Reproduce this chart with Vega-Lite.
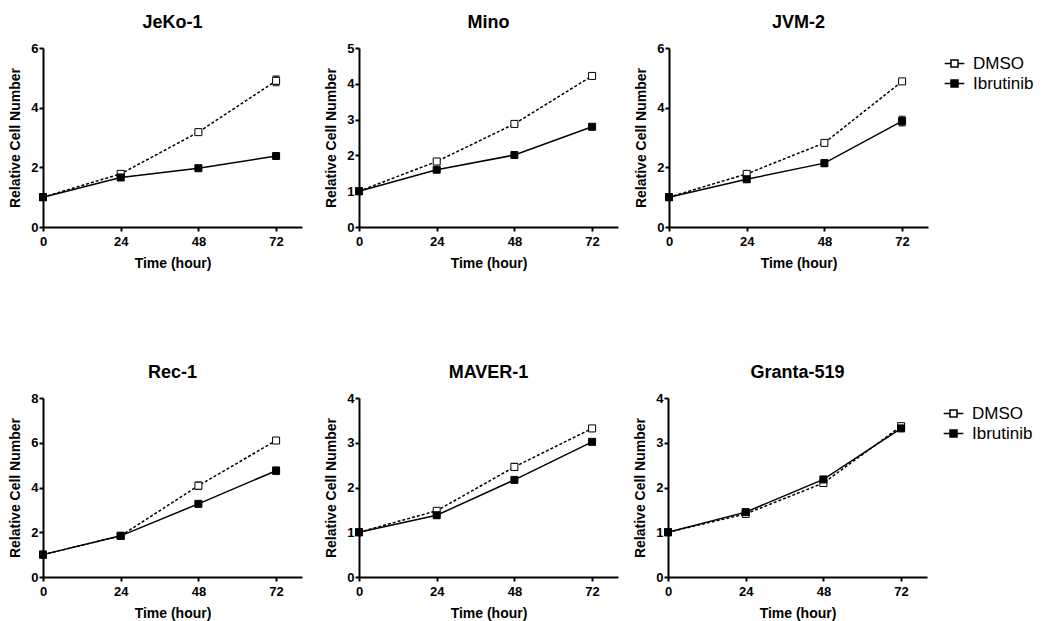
{
  "$schema": "https://vega.github.io/schema/vega-lite/v6.json",
  "padding": {"left": 8, "top": 14, "right": 5, "bottom": 5},
  "background": "white",
  "data": {"values": [
    {"cell": "JeKo-1", "treatment": "DMSO", "time": 0, "value": 1.0, "lo": 1.0, "hi": 1.0},
    {"cell": "JeKo-1", "treatment": "DMSO", "time": 24, "value": 1.78, "lo": 1.70, "hi": 1.86},
    {"cell": "JeKo-1", "treatment": "DMSO", "time": 48, "value": 3.18, "lo": 3.13, "hi": 3.23},
    {"cell": "JeKo-1", "treatment": "DMSO", "time": 72, "value": 4.9, "lo": 4.75, "hi": 5.05},
    {"cell": "JeKo-1", "treatment": "Ibrutinib", "time": 0, "value": 1.0, "lo": 1.0, "hi": 1.0},
    {"cell": "JeKo-1", "treatment": "Ibrutinib", "time": 24, "value": 1.66, "lo": 1.61, "hi": 1.71},
    {"cell": "JeKo-1", "treatment": "Ibrutinib", "time": 48, "value": 1.97, "lo": 1.94, "hi": 2.0},
    {"cell": "JeKo-1", "treatment": "Ibrutinib", "time": 72, "value": 2.38, "lo": 2.35, "hi": 2.41},
    {"cell": "Mino", "treatment": "DMSO", "time": 0, "value": 1.0, "lo": 1.0, "hi": 1.0},
    {"cell": "Mino", "treatment": "DMSO", "time": 24, "value": 1.83, "lo": 1.80, "hi": 1.86},
    {"cell": "Mino", "treatment": "DMSO", "time": 48, "value": 2.88, "lo": 2.85, "hi": 2.91},
    {"cell": "Mino", "treatment": "DMSO", "time": 72, "value": 4.22, "lo": 4.19, "hi": 4.25},
    {"cell": "Mino", "treatment": "Ibrutinib", "time": 0, "value": 1.0, "lo": 1.0, "hi": 1.0},
    {"cell": "Mino", "treatment": "Ibrutinib", "time": 24, "value": 1.6, "lo": 1.57, "hi": 1.63},
    {"cell": "Mino", "treatment": "Ibrutinib", "time": 48, "value": 2.01, "lo": 1.98, "hi": 2.04},
    {"cell": "Mino", "treatment": "Ibrutinib", "time": 72, "value": 2.8, "lo": 2.77, "hi": 2.83},
    {"cell": "JVM-2", "treatment": "DMSO", "time": 0, "value": 1.0, "lo": 1.0, "hi": 1.0},
    {"cell": "JVM-2", "treatment": "DMSO", "time": 24, "value": 1.78, "lo": 1.75, "hi": 1.81},
    {"cell": "JVM-2", "treatment": "DMSO", "time": 48, "value": 2.82, "lo": 2.78, "hi": 2.86},
    {"cell": "JVM-2", "treatment": "DMSO", "time": 72, "value": 4.88, "lo": 4.85, "hi": 4.91},
    {"cell": "JVM-2", "treatment": "Ibrutinib", "time": 0, "value": 1.0, "lo": 1.0, "hi": 1.0},
    {"cell": "JVM-2", "treatment": "Ibrutinib", "time": 24, "value": 1.6, "lo": 1.56, "hi": 1.64},
    {"cell": "JVM-2", "treatment": "Ibrutinib", "time": 48, "value": 2.14, "lo": 2.04, "hi": 2.24},
    {"cell": "JVM-2", "treatment": "Ibrutinib", "time": 72, "value": 3.55, "lo": 3.4, "hi": 3.7},
    {"cell": "Rec-1", "treatment": "DMSO", "time": 0, "value": 1.0, "lo": 1.0, "hi": 1.0},
    {"cell": "Rec-1", "treatment": "DMSO", "time": 24, "value": 1.84, "lo": 1.80, "hi": 1.88},
    {"cell": "Rec-1", "treatment": "DMSO", "time": 48, "value": 4.08, "lo": 3.93, "hi": 4.23},
    {"cell": "Rec-1", "treatment": "DMSO", "time": 72, "value": 6.1, "lo": 6.05, "hi": 6.15},
    {"cell": "Rec-1", "treatment": "Ibrutinib", "time": 0, "value": 1.0, "lo": 1.0, "hi": 1.0},
    {"cell": "Rec-1", "treatment": "Ibrutinib", "time": 24, "value": 1.84, "lo": 1.79, "hi": 1.89},
    {"cell": "Rec-1", "treatment": "Ibrutinib", "time": 48, "value": 3.27, "lo": 3.22, "hi": 3.32},
    {"cell": "Rec-1", "treatment": "Ibrutinib", "time": 72, "value": 4.75, "lo": 4.6, "hi": 4.9},
    {"cell": "MAVER-1", "treatment": "DMSO", "time": 0, "value": 1.0, "lo": 1.0, "hi": 1.0},
    {"cell": "MAVER-1", "treatment": "DMSO", "time": 24, "value": 1.48, "lo": 1.46, "hi": 1.5},
    {"cell": "MAVER-1", "treatment": "DMSO", "time": 48, "value": 2.46, "lo": 2.39, "hi": 2.53},
    {"cell": "MAVER-1", "treatment": "DMSO", "time": 72, "value": 3.32, "lo": 3.29, "hi": 3.35},
    {"cell": "MAVER-1", "treatment": "Ibrutinib", "time": 0, "value": 1.0, "lo": 1.0, "hi": 1.0},
    {"cell": "MAVER-1", "treatment": "Ibrutinib", "time": 24, "value": 1.38, "lo": 1.35, "hi": 1.41},
    {"cell": "MAVER-1", "treatment": "Ibrutinib", "time": 48, "value": 2.17, "lo": 2.14, "hi": 2.2},
    {"cell": "MAVER-1", "treatment": "Ibrutinib", "time": 72, "value": 3.02, "lo": 2.99, "hi": 3.05},
    {"cell": "Granta-519", "treatment": "DMSO", "time": 0, "value": 1.0, "lo": 1.0, "hi": 1.0},
    {"cell": "Granta-519", "treatment": "DMSO", "time": 24, "value": 1.41, "lo": 1.38, "hi": 1.44},
    {"cell": "Granta-519", "treatment": "DMSO", "time": 48, "value": 2.1, "lo": 2.06, "hi": 2.14},
    {"cell": "Granta-519", "treatment": "DMSO", "time": 72, "value": 3.37, "lo": 3.34, "hi": 3.4},
    {"cell": "Granta-519", "treatment": "Ibrutinib", "time": 0, "value": 1.0, "lo": 1.0, "hi": 1.0},
    {"cell": "Granta-519", "treatment": "Ibrutinib", "time": 24, "value": 1.45, "lo": 1.42, "hi": 1.48},
    {"cell": "Granta-519", "treatment": "Ibrutinib", "time": 48, "value": 2.18, "lo": 2.15, "hi": 2.21},
    {"cell": "Granta-519", "treatment": "Ibrutinib", "time": 72, "value": 3.32, "lo": 3.29, "hi": 3.35}
  ]},
  "columns": 1,
  "spacing": 94,
  "resolve": {"scale": {"fill": "independent"}, "legend": {"fill": "independent"}},
  "concat": [
    {
      "spacing": 22,
      "hconcat": [
        {
          "title": "JeKo-1", "width": 259, "height": 179,
          "transform": [{"filter": "datum.cell === 'JeKo-1'"}],
          "encoding": {"x": {"field": "time", "type": "quantitative", "scale": {"domain": [0, 80], "nice": false}, "axis": {"values": [0, 24, 48, 72], "title": "Time (hour)"}}},
          "layer": [
            {"mark": {"type": "errorbar", "ticks": {"size": 7, "thickness": 2, "color": "black"}, "color": "black", "thickness": 1.5},
             "encoding": {"y": {"field": "lo", "type": "quantitative", "scale": {"domain": [0, 6], "nice": false}, "axis": {"values": [0, 2, 4, 6], "title": "Relative Cell Number"}}, "y2": {"field": "hi"}, "detail": {"field": "treatment"}}},
            {"transform": [{"filter": "datum.treatment === 'DMSO'"}], "mark": {"type": "line", "color": "black", "strokeWidth": 1.5, "strokeDash": [3, 2]},
             "encoding": {"y": {"field": "value", "type": "quantitative", "scale": {"domain": [0, 6], "nice": false}, "axis": {"values": [0, 2, 4, 6], "title": "Relative Cell Number"}}}},
            {"transform": [{"filter": "datum.treatment === 'Ibrutinib'"}], "mark": {"type": "line", "color": "black", "strokeWidth": 1.5},
             "encoding": {"y": {"field": "value", "type": "quantitative", "scale": {"domain": [0, 6], "nice": false}, "axis": {"values": [0, 2, 4, 6], "title": "Relative Cell Number"}}}},
            {"mark": {"type": "point", "shape": "square", "filled": true, "size": 49, "stroke": "black", "strokeWidth": 1, "opacity": 1},
             "encoding": {"y": {"field": "value", "type": "quantitative", "scale": {"domain": [0, 6], "nice": false}, "axis": {"values": [0, 2, 4, 6], "title": "Relative Cell Number"}},
                          "fill": {"field": "treatment", "type": "nominal", "scale": {"domain": ["DMSO", "Ibrutinib"], "range": ["white", "black"]},
                                   "legend": {"title": null, "orient": "right", "offset": 11, "padding": 7, "labelFontSize": 17, "labelFont": "Liberation Sans", "labelFontWeight": "normal", "labelColor": "black", "labelOffset": 10, "symbolSize": 49, "rowPadding": 2, "symbolType": "M-2.8,0H-1M-1,-1H1V1H-1ZM1,0H2.8", "symbolStrokeColor": "black", "symbolStrokeWidth": 1.5,
                                              "encode": {"symbols": {"strokeDash": {"condition": {"test": "datum.value === 'DMSO'", "value": [2, 1.5]}, "value": [1, 0]}}}}}}}
          ]
        },
        {
          "spacing": 16,
          "hconcat": [
            {
              "title": "Mino", "width": 259, "height": 179,
              "transform": [{"filter": "datum.cell === 'Mino'"}],
              "encoding": {"x": {"field": "time", "type": "quantitative", "scale": {"domain": [0, 80], "nice": false}, "axis": {"values": [0, 24, 48, 72], "title": "Time (hour)"}}},
              "layer": [
                {"mark": {"type": "errorbar", "ticks": {"size": 7, "thickness": 2, "color": "black"}, "color": "black", "thickness": 1.5},
                 "encoding": {"y": {"field": "lo", "type": "quantitative", "scale": {"domain": [0, 5], "nice": false}, "axis": {"values": [0, 1, 2, 3, 4, 5], "title": "Relative Cell Number"}}, "y2": {"field": "hi"}, "detail": {"field": "treatment"}}},
                {"transform": [{"filter": "datum.treatment === 'DMSO'"}], "mark": {"type": "line", "color": "black", "strokeWidth": 1.5, "strokeDash": [3, 2]},
                 "encoding": {"y": {"field": "value", "type": "quantitative", "scale": {"domain": [0, 5], "nice": false}, "axis": {"values": [0, 1, 2, 3, 4, 5], "title": "Relative Cell Number"}}}},
                {"transform": [{"filter": "datum.treatment === 'Ibrutinib'"}], "mark": {"type": "line", "color": "black", "strokeWidth": 1.5},
                 "encoding": {"y": {"field": "value", "type": "quantitative", "scale": {"domain": [0, 5], "nice": false}, "axis": {"values": [0, 1, 2, 3, 4, 5], "title": "Relative Cell Number"}}}},
                {"mark": {"type": "point", "shape": "square", "filled": true, "size": 49, "stroke": "black", "strokeWidth": 1, "opacity": 1},
                 "encoding": {"y": {"field": "value", "type": "quantitative", "scale": {"domain": [0, 5], "nice": false}, "axis": {"values": [0, 1, 2, 3, 4, 5], "title": "Relative Cell Number"}},
                              "fill": {"field": "treatment", "type": "nominal", "scale": {"domain": ["DMSO", "Ibrutinib"], "range": ["white", "black"]},
                                       "legend": {"title": null, "orient": "right", "offset": 11, "padding": 7, "labelFontSize": 17, "labelFont": "Liberation Sans", "labelFontWeight": "normal", "labelColor": "black", "labelOffset": 10, "symbolSize": 49, "rowPadding": 2, "symbolType": "M-2.8,0H-1M-1,-1H1V1H-1ZM1,0H2.8", "symbolStrokeColor": "black", "symbolStrokeWidth": 1.5,
                                                  "encode": {"symbols": {"strokeDash": {"condition": {"test": "datum.value === 'DMSO'", "value": [2, 1.5]}, "value": [1, 0]}}}}}}}
              ]
            },
            {
              "title": "JVM-2", "width": 259, "height": 179,
              "transform": [{"filter": "datum.cell === 'JVM-2'"}],
              "encoding": {"x": {"field": "time", "type": "quantitative", "scale": {"domain": [0, 80], "nice": false}, "axis": {"values": [0, 24, 48, 72], "title": "Time (hour)"}}},
              "layer": [
                {"mark": {"type": "errorbar", "ticks": {"size": 7, "thickness": 2, "color": "black"}, "color": "black", "thickness": 1.5},
                 "encoding": {"y": {"field": "lo", "type": "quantitative", "scale": {"domain": [0, 6], "nice": false}, "axis": {"values": [0, 2, 4, 6], "title": "Relative Cell Number"}}, "y2": {"field": "hi"}, "detail": {"field": "treatment"}}},
                {"transform": [{"filter": "datum.treatment === 'DMSO'"}], "mark": {"type": "line", "color": "black", "strokeWidth": 1.5, "strokeDash": [3, 2]},
                 "encoding": {"y": {"field": "value", "type": "quantitative", "scale": {"domain": [0, 6], "nice": false}, "axis": {"values": [0, 2, 4, 6], "title": "Relative Cell Number"}}}},
                {"transform": [{"filter": "datum.treatment === 'Ibrutinib'"}], "mark": {"type": "line", "color": "black", "strokeWidth": 1.5},
                 "encoding": {"y": {"field": "value", "type": "quantitative", "scale": {"domain": [0, 6], "nice": false}, "axis": {"values": [0, 2, 4, 6], "title": "Relative Cell Number"}}}},
                {"mark": {"type": "point", "shape": "square", "filled": true, "size": 49, "stroke": "black", "strokeWidth": 1, "opacity": 1},
                 "encoding": {"y": {"field": "value", "type": "quantitative", "scale": {"domain": [0, 6], "nice": false}, "axis": {"values": [0, 2, 4, 6], "title": "Relative Cell Number"}},
                              "fill": {"field": "treatment", "type": "nominal", "scale": {"domain": ["DMSO", "Ibrutinib"], "range": ["white", "black"]},
                                       "legend": {"title": null, "orient": "right", "offset": 11, "padding": 7, "labelFontSize": 17, "labelFont": "Liberation Sans", "labelFontWeight": "normal", "labelColor": "black", "labelOffset": 10, "symbolSize": 49, "rowPadding": 2, "symbolType": "M-2.8,0H-1M-1,-1H1V1H-1ZM1,0H2.8", "symbolStrokeColor": "black", "symbolStrokeWidth": 1.5,
                                                  "encode": {"symbols": {"strokeDash": {"condition": {"test": "datum.value === 'DMSO'", "value": [2, 1.5]}, "value": [1, 0]}}}}}}}
              ]
            }
          ]
        }
      ]
    },
    {
      "spacing": 22,
      "hconcat": [
        {
          "title": "Rec-1", "width": 259, "height": 179,
          "transform": [{"filter": "datum.cell === 'Rec-1'"}],
          "encoding": {"x": {"field": "time", "type": "quantitative", "scale": {"domain": [0, 80], "nice": false}, "axis": {"values": [0, 24, 48, 72], "title": "Time (hour)"}}},
          "layer": [
            {"mark": {"type": "errorbar", "ticks": {"size": 7, "thickness": 2, "color": "black"}, "color": "black", "thickness": 1.5},
             "encoding": {"y": {"field": "lo", "type": "quantitative", "scale": {"domain": [0, 8], "nice": false}, "axis": {"values": [0, 2, 4, 6, 8], "title": "Relative Cell Number"}}, "y2": {"field": "hi"}, "detail": {"field": "treatment"}}},
            {"transform": [{"filter": "datum.treatment === 'DMSO'"}], "mark": {"type": "line", "color": "black", "strokeWidth": 1.5, "strokeDash": [3, 2]},
             "encoding": {"y": {"field": "value", "type": "quantitative", "scale": {"domain": [0, 8], "nice": false}, "axis": {"values": [0, 2, 4, 6, 8], "title": "Relative Cell Number"}}}},
            {"transform": [{"filter": "datum.treatment === 'Ibrutinib'"}], "mark": {"type": "line", "color": "black", "strokeWidth": 1.5},
             "encoding": {"y": {"field": "value", "type": "quantitative", "scale": {"domain": [0, 8], "nice": false}, "axis": {"values": [0, 2, 4, 6, 8], "title": "Relative Cell Number"}}}},
            {"mark": {"type": "point", "shape": "square", "filled": true, "size": 49, "stroke": "black", "strokeWidth": 1, "opacity": 1},
             "encoding": {"y": {"field": "value", "type": "quantitative", "scale": {"domain": [0, 8], "nice": false}, "axis": {"values": [0, 2, 4, 6, 8], "title": "Relative Cell Number"}},
                          "fill": {"field": "treatment", "type": "nominal", "scale": {"domain": ["DMSO", "Ibrutinib"], "range": ["white", "black"]},
                                   "legend": {"title": null, "orient": "right", "offset": 11, "padding": 7, "labelFontSize": 17, "labelFont": "Liberation Sans", "labelFontWeight": "normal", "labelColor": "black", "labelOffset": 10, "symbolSize": 49, "rowPadding": 2, "symbolType": "M-2.8,0H-1M-1,-1H1V1H-1ZM1,0H2.8", "symbolStrokeColor": "black", "symbolStrokeWidth": 1.5,
                                              "encode": {"symbols": {"strokeDash": {"condition": {"test": "datum.value === 'DMSO'", "value": [2, 1.5]}, "value": [1, 0]}}}}}}}
          ]
        },
        {
          "spacing": 15,
          "hconcat": [
            {
              "title": "MAVER-1", "width": 259, "height": 179,
              "transform": [{"filter": "datum.cell === 'MAVER-1'"}],
              "encoding": {"x": {"field": "time", "type": "quantitative", "scale": {"domain": [0, 80], "nice": false}, "axis": {"values": [0, 24, 48, 72], "title": "Time (hour)"}}},
              "layer": [
                {"mark": {"type": "errorbar", "ticks": {"size": 7, "thickness": 2, "color": "black"}, "color": "black", "thickness": 1.5},
                 "encoding": {"y": {"field": "lo", "type": "quantitative", "scale": {"domain": [0, 4], "nice": false}, "axis": {"values": [0, 1, 2, 3, 4], "title": "Relative Cell Number"}}, "y2": {"field": "hi"}, "detail": {"field": "treatment"}}},
                {"transform": [{"filter": "datum.treatment === 'DMSO'"}], "mark": {"type": "line", "color": "black", "strokeWidth": 1.5, "strokeDash": [3, 2]},
                 "encoding": {"y": {"field": "value", "type": "quantitative", "scale": {"domain": [0, 4], "nice": false}, "axis": {"values": [0, 1, 2, 3, 4], "title": "Relative Cell Number"}}}},
                {"transform": [{"filter": "datum.treatment === 'Ibrutinib'"}], "mark": {"type": "line", "color": "black", "strokeWidth": 1.5},
                 "encoding": {"y": {"field": "value", "type": "quantitative", "scale": {"domain": [0, 4], "nice": false}, "axis": {"values": [0, 1, 2, 3, 4], "title": "Relative Cell Number"}}}},
                {"mark": {"type": "point", "shape": "square", "filled": true, "size": 49, "stroke": "black", "strokeWidth": 1, "opacity": 1},
                 "encoding": {"y": {"field": "value", "type": "quantitative", "scale": {"domain": [0, 4], "nice": false}, "axis": {"values": [0, 1, 2, 3, 4], "title": "Relative Cell Number"}},
                              "fill": {"field": "treatment", "type": "nominal", "scale": {"domain": ["DMSO", "Ibrutinib"], "range": ["white", "black"]},
                                       "legend": {"title": null, "orient": "right", "offset": 11, "padding": 7, "labelFontSize": 17, "labelFont": "Liberation Sans", "labelFontWeight": "normal", "labelColor": "black", "labelOffset": 10, "symbolSize": 49, "rowPadding": 2, "symbolType": "M-2.8,0H-1M-1,-1H1V1H-1ZM1,0H2.8", "symbolStrokeColor": "black", "symbolStrokeWidth": 1.5,
                                                  "encode": {"symbols": {"strokeDash": {"condition": {"test": "datum.value === 'DMSO'", "value": [2, 1.5]}, "value": [1, 0]}}}}}}}
              ]
            },
            {
              "title": "Granta-519", "width": 259, "height": 179,
              "transform": [{"filter": "datum.cell === 'Granta-519'"}],
              "encoding": {"x": {"field": "time", "type": "quantitative", "scale": {"domain": [0, 80], "nice": false}, "axis": {"values": [0, 24, 48, 72], "title": "Time (hour)"}}},
              "layer": [
                {"mark": {"type": "errorbar", "ticks": {"size": 7, "thickness": 2, "color": "black"}, "color": "black", "thickness": 1.5},
                 "encoding": {"y": {"field": "lo", "type": "quantitative", "scale": {"domain": [0, 4], "nice": false}, "axis": {"values": [0, 1, 2, 3, 4], "title": "Relative Cell Number"}}, "y2": {"field": "hi"}, "detail": {"field": "treatment"}}},
                {"transform": [{"filter": "datum.treatment === 'DMSO'"}], "mark": {"type": "line", "color": "black", "strokeWidth": 1.5, "strokeDash": [3, 2]},
                 "encoding": {"y": {"field": "value", "type": "quantitative", "scale": {"domain": [0, 4], "nice": false}, "axis": {"values": [0, 1, 2, 3, 4], "title": "Relative Cell Number"}}}},
                {"transform": [{"filter": "datum.treatment === 'Ibrutinib'"}], "mark": {"type": "line", "color": "black", "strokeWidth": 1.5},
                 "encoding": {"y": {"field": "value", "type": "quantitative", "scale": {"domain": [0, 4], "nice": false}, "axis": {"values": [0, 1, 2, 3, 4], "title": "Relative Cell Number"}}}},
                {"mark": {"type": "point", "shape": "square", "filled": true, "size": 49, "stroke": "black", "strokeWidth": 1, "opacity": 1},
                 "encoding": {"y": {"field": "value", "type": "quantitative", "scale": {"domain": [0, 4], "nice": false}, "axis": {"values": [0, 1, 2, 3, 4], "title": "Relative Cell Number"}},
                              "fill": {"field": "treatment", "type": "nominal", "scale": {"domain": ["DMSO", "Ibrutinib"], "range": ["white", "black"]},
                                       "legend": {"title": null, "orient": "right", "offset": 11, "padding": 7, "labelFontSize": 17, "labelFont": "Liberation Sans", "labelFontWeight": "normal", "labelColor": "black", "labelOffset": 10, "symbolSize": 49, "rowPadding": 2, "symbolType": "M-2.8,0H-1M-1,-1H1V1H-1ZM1,0H2.8", "symbolStrokeColor": "black", "symbolStrokeWidth": 1.5,
                                                  "encode": {"symbols": {"strokeDash": {"condition": {"test": "datum.value === 'DMSO'", "value": [2, 1.5]}, "value": [1, 0]}}}}}}}
              ]
            }
          ]
        }
      ]
    }
  ],
  "config": {
    "font": "Liberation Sans",
    "view": {"stroke": null},
    "title": {"fontSize": 18, "fontWeight": "bold", "font": "Liberation Sans", "color": "black", "offset": 10},
    "axis": {"labelFont": "Liberation Sans", "labelFontWeight": "bold", "labelFontSize": 13, "labelColor": "black", "titleFont": "Liberation Sans", "titleFontSize": 14, "titleFontWeight": "bold", "titleColor": "black", "domainColor": "black", "domainWidth": 2, "tickColor": "black", "tickWidth": 2, "tickSize": 4, "labelPadding": 1, "grid": false, "titlePadding": 8},
    "axisX": {"labelFlush": false, "labelPadding": 4},
    "axisY": {"labelFlush": false}
  }
}
